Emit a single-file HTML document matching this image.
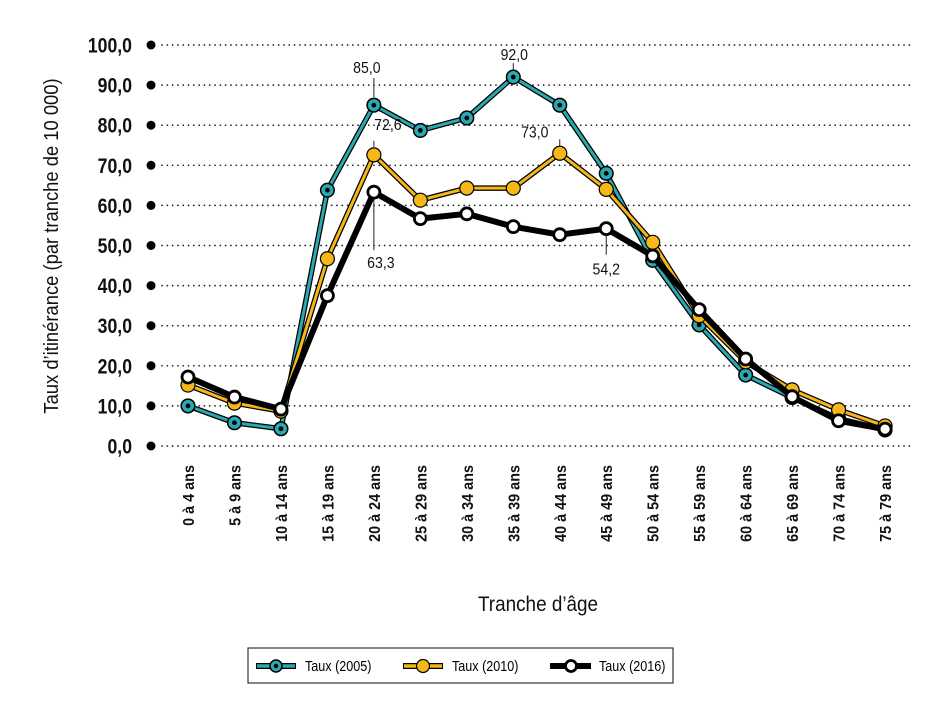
<!DOCTYPE html>
<html><head><meta charset="utf-8"><style>
body{margin:0;background:#fff;}
svg{display:block;font-family:"Liberation Sans",sans-serif;}
</style></head><body>
<svg id="chart" width="945" height="718" xmlns="http://www.w3.org/2000/svg">
<g id="grid"></g>
<g id="yaxis"></g>
<g id="xaxis"></g>
<g id="series"></g>
<g id="ann"></g>
<text transform="translate(58,246) rotate(-90) scale(0.92,1)" text-anchor="middle" font-size="20" fill="#111">Taux d’itinérance (par tranche de 10 000)</text>
<text transform="translate(538,611) scale(0.9,1)" text-anchor="middle" font-size="21" fill="#111">Tranche d’âge</text>
<g>
<rect x="248" y="648" width="425" height="35" fill="#fff" stroke="#333" stroke-width="1.2"/>
<g>
<line x1="256" y1="666" x2="296" y2="666" stroke="#000" stroke-width="6"/>
<line x1="257" y1="666" x2="295" y2="666" stroke="#2aa9b0" stroke-width="3.5"/>
<circle cx="276" cy="666" r="6" fill="#2aa9b0" stroke="#000" stroke-width="1.5"/><circle cx="276" cy="666" r="2.2" fill="#000"/>
<text transform="translate(305,671) scale(0.84,1)" font-size="15">Taux (2005)</text></g>
<g>
<line x1="403" y1="666" x2="443" y2="666" stroke="#000" stroke-width="6"/>
<line x1="404" y1="666" x2="442" y2="666" stroke="#f5b719" stroke-width="3.5"/>
<circle cx="423" cy="666" r="6.5" fill="#f5b719" stroke="#000" stroke-width="1.2"/>
<text transform="translate(452,671) scale(0.84,1)" font-size="15">Taux (2010)</text></g>
<g>
<line x1="550" y1="666" x2="591" y2="666" stroke="#000" stroke-width="6"/>
<circle cx="571" cy="666" r="5.5" fill="#fff" stroke="#000" stroke-width="2.8"/>
<text transform="translate(599,671) scale(0.84,1)" font-size="15">Taux (2016)</text></g>
</g>
</svg>
<script>
const categories=["0 à 4 ans","5 à 9 ans","10 à 14 ans","15 à 19 ans","20 à 24 ans","25 à 29 ans","30 à 34 ans","35 à 39 ans","40 à 44 ans","45 à 49 ans","50 à 54 ans","55 à 59 ans","60 à 64 ans","65 à 69 ans","70 à 74 ans","75 à 79 ans"];
const values2005=[10.0,5.8,4.3,63.8,85.0,78.7,81.8,92.0,85.0,68.0,46.3,30.2,17.7,12.1,6.8,4.0];
const values2010=[15.2,10.7,8.7,46.7,72.6,61.3,64.3,64.3,73.0,64.0,50.8,32.5,21.0,14.0,9.0,5.0];
const values2016=[17.2,12.2,9.2,37.5,63.3,56.7,57.9,54.7,52.7,54.2,47.4,34.0,21.7,12.3,6.3,4.2];
const yTicks=[0,10,20,30,40,50,60,70,80,90,100];
const yTickLabels=["0,0","10,0","20,0","30,0","40,0","50,0","60,0","70,0","80,0","90,0","100,0"];
const NS="http://www.w3.org/2000/svg";
function y(v){return 446-v*4.01;}
function x(i){return 188+i*46.47;}
function mk(tag,attrs,parent){const e=document.createElementNS(NS,tag);for(const k in attrs)e.setAttribute(k,attrs[k]);parent.appendChild(e);return e;}
const grid=document.getElementById('grid'),ya=document.getElementById('yaxis'),xa=document.getElementById('xaxis'),ser=document.getElementById('series'),ann=document.getElementById('ann');
yTicks.forEach((t,i)=>{
  const l=mk('line',{x1:162,x2:912,y1:y(t),y2:y(t),stroke:'#222','stroke-width':1.7,'stroke-dasharray':'0.1 5.2','stroke-linecap':'round'},grid);
  
  
  const d=mk('circle',{cx:151,cy:y(t),r:4.5,fill:'#000'},ya);
  
  
  const tx=mk('text',{transform:`translate(132,${y(t)+7.5}) scale(0.82,1)`,'text-anchor':'end','font-size':21.5,'font-weight':'bold',fill:'#111'},ya);
  tx.textContent=yTickLabels[i];
  
  
});
categories.forEach((c,i)=>{
  const tx=mk('text',{transform:`translate(${x(i)+6},465) rotate(-90) scale(0.9,1)`,'text-anchor':'end','font-size':16,'font-weight':'bold',fill:'#111'},xa);
  tx.textContent=c;
  
  
});
function pts(vals){return vals.map((v,i)=>x(i)+','+y(v)).join(' ');}
function series(vals,color,name,marker){
  const g=mk('g',{},ser);
  
  
  mk('polyline',{points:pts(vals),fill:'none',stroke:'#000','stroke-width':color?5.5:6,'stroke-linejoin':'round'},g);
  if(color) mk('polyline',{points:pts(vals),fill:'none',stroke:color,'stroke-width':3,'stroke-linejoin':'round'},g);
  vals.forEach((v,i)=>{
    let c;
    if(marker==='teal'){c=mk('circle',{cx:x(i),cy:y(v),r:6.8,fill:'#2aa9b0',stroke:'#000','stroke-width':1.5},g);mk('circle',{cx:x(i),cy:y(v),r:2.4,fill:'#000'},g);}
    else if(marker==='yellow'){c=mk('circle',{cx:x(i),cy:y(v),r:7,fill:'#f5b719',stroke:'#000','stroke-width':1.2},g);}
    else{c=mk('circle',{cx:x(i),cy:y(v),r:6,fill:'#fff',stroke:'#000','stroke-width':2.8},g);}
    
    
  });
}
series(values2005,'#2aa9b0','series-2005','teal');
series(values2010,'#f5b719','series-2010','yellow');
series(values2016,null,'series-2016','white');
function fmt(v){return v.toFixed(1).replace('.',',');}
function label(i,vals,lx,ly,l1,l2){
  const px=x(i),py=y(vals[i]);
  mk('line',{x1:px,y1:py+l1,x2:px,y2:py+l2,stroke:'#222','stroke-width':1},ann);
  const t=mk('text',{transform:`translate(${px+lx},${py+ly}) scale(0.88,1)`,'text-anchor':'middle','font-size':16,fill:'#111'},ann);
  t.textContent=fmt(vals[i]);
  
  
}
label(4,values2005,-7,-32,-8,-27);
label(7,values2005,1,-17,-7,-14);
label(4,values2010,14,-25,-8,-14);
label(8,values2010,-25,-16,-7,-14);
label(4,values2016,7,76,7,58);
label(9,values2016,0,46,7,26);
</script>
</body></html>
